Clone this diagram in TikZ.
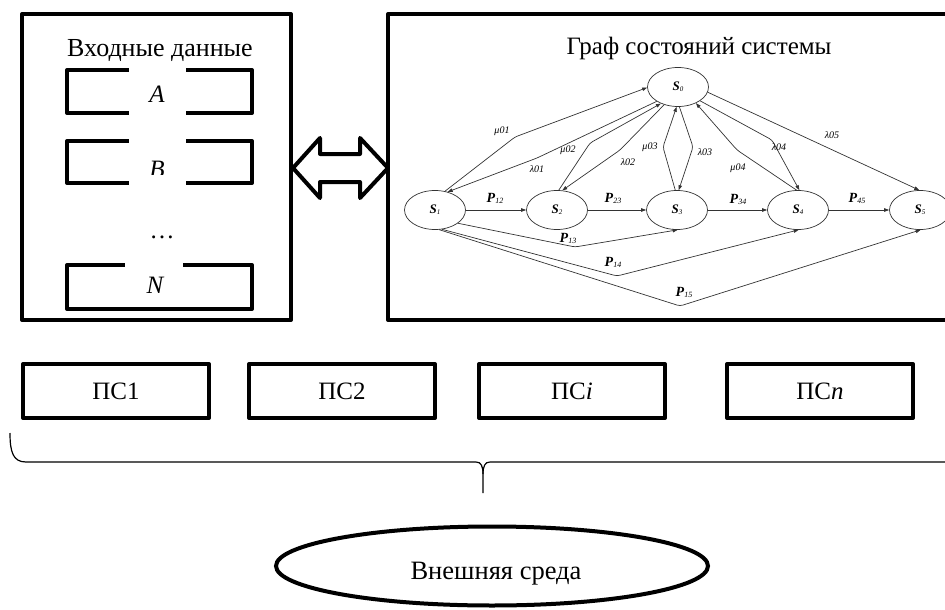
\documentclass[tikz,border=0pt]{standalone}
\usepackage{fontspec}
\setmainfont{LiberationSerif}[
  Extension=.ttf,
  UprightFont=*-Regular,
  BoldFont=*-Bold,
  ItalicFont=*-Italic,
  BoldItalicFont=*-BoldItalic]
\usetikzlibrary{arrows.meta,shapes.geometric}

\newcommand{\bigfs}{\fontsize{25}{30}\selectfont}
\newcommand{\headfs}{\fontsize{26}{31}\selectfont}
\newcommand{\envfs}{\fontsize{26.5}{31}\selectfont}
\newcommand{\midfs}{\fontsize{25}{29}\selectfont}
\newcommand{\ratefs}{\fontsize{10}{12}\selectfont}
% state label S_k and probability label P_jk
\newcommand{\stt}[1]{\textbf{\textit{S}}\raisebox{-1pt}{\fontsize{7}{8}\selectfont\itshape #1}}
\newcommand{\prb}[1]{\textbf{\textit{P}}\raisebox{-1pt}{\fontsize{8}{9}\selectfont\itshape #1}}

\begin{document}
\begin{tikzpicture}[x=1pt,y=-1pt,
  frame/.style={draw,line width=4pt,line join=round},
  state/.style={ellipse,draw=black!80,line width=0.7pt,minimum width=61pt,minimum height=39pt,inner sep=0pt,font=\fontsize{13}{15}\selectfont},
  edge/.style={draw=black!80,line width=0.7pt,-{Triangle[length=5pt,width=3.5pt]},rounded corners=3pt},
  rate/.style={font=\ratefs\itshape,inner sep=1pt},
  prob/.style={font=\fontsize{14}{16}\selectfont,inner sep=1pt},
  psbox/.style={frame,minimum width=186pt,minimum height=54pt,font=\midfs}
]
\clip (0,0) rectangle (945,610);

% ---- input data panel ----
\draw[frame] (22,14) rectangle (291,320);
\node[font=\headfs,anchor=base] (tin) at (160,57) {Входные данные};

\draw[frame] (67,70) rectangle (252,113);
\fill[white] (129,66) rectangle (186,117);
\node[font=\bigfs\itshape,anchor=base] (va) at (157,102) {A};

\draw[frame] (67,141) rectangle (252,183);
\fill[white] (129,137) rectangle (186,187);
\begin{scope}
  \clip (129,140) rectangle (186,174);
  \node[font=\bigfs\itshape,anchor=base] (vb) at (157,177) {B};
\end{scope}

\node[font=\bigfs,anchor=base] (dots) at (162,238) {…};

\draw[frame] (67,265) rectangle (252,309);
\fill[white] (125,261) rectangle (183,269);
\node[font=\bigfs\itshape,anchor=base] (vn) at (155,293) {N};

% ---- two-way arrow ----
\draw[frame,fill=white] (293,168) -- (320,138) -- (320,154) -- (360,154) -- (360,138)
  -- (388,168) -- (360,198) -- (360,182) -- (320,182) -- (320,198) -- cycle;

% ---- state graph panel ----
\draw[frame] (388,14) rectangle (970,320);
\node[font=\bigfs,anchor=base] (tgraph) at (699,55) {Граф состояний системы};

\node[state] (s0) at (678,87) {\stt{0}};
\node[state] (s1) at (435,210) {\stt{1}};
\node[state] (s2) at (557,210) {\stt{2}};
\node[state] (s3) at (677,210) {\stt{3}};
\node[state] (s4) at (798,210) {\stt{4}};
\node[state] (s5) at (920,210) {\stt{5}};

% transitions along the chain
\draw[edge] (s1) -- (s2);
\draw[edge] (s2) -- (s3);
\draw[edge] (s3) -- (s4);
\draw[edge] (s4) -- (s5);
\node[prob] (p12) at (495,198) {\prb{12}};
\node[prob] (p23) at (613,198) {\prb{23}};
\node[prob] (p34) at (738,199) {\prb{34}};
\node[prob] (p45) at (857,198) {\prb{45}};

% transitions to and from S0
\draw[edge] (s1.62) -- (515,137) -- (s0.181);
\draw[edge] (s0.214) -- (537,158) -- (s1.55);
\draw[edge] (s2.85) -- (590,143) -- (s0.224);
\draw[edge] (s0.232) -- (620,150) -- (s2.75);
\draw[edge] (s3.95) -- (663,147) -- (s0.266);
\draw[edge] (s0.274) -- (693,147) -- (s3.85);
\draw[edge] (s4.94) -- (737,150) -- (s0.318);
\draw[edge] (s0.328) -- (772,140) -- (s4.86);
\draw[edge] (s0.350) -- (s5.92);
\node[rate] (m01) at (502,131) {μ01};
\node[rate] (l01) at (537,169) {λ01};
\node[rate] (m02) at (568,150) {μ02};
\node[rate] (l02) at (628,162) {λ02};
\node[rate] (m03) at (650,147) {μ03};
\node[rate] (l03) at (705,152) {λ03};
\node[rate] (m04) at (738,168) {μ04};
\node[rate] (l04) at (779,147) {λ04};
\node[rate] (l05) at (832,135) {λ05};

% long jumps from S1
\draw[edge] (s1.330) -- (575,247) -- (s3.272);
\draw[edge] (s1.290) -- (617,276) -- (s4.272);
\draw[edge] (s1.282) -- (680,306) -- (s5.272);
\node[prob] (p13) at (568,238) {\prb{13}};
\node[prob] (p14) at (613,262) {\prb{14}};
\node[prob] (p15) at (684,292) {\prb{15}};

% ---- subsystems ----
\node[psbox] (ps1) at (116,391) {ПС1};
\node[psbox] (ps2) at (342,391) {ПС2};
\node[psbox] (psi) at (572,391) {ПС\textit{i}};
\node[psbox] (psn) at (820,391) {ПС\textit{n}};

% ---- brace ----
\coordinate (brtip) at (483,493);
\draw[line width=1.2pt] (10,433) .. controls (10,452) and (13,462) .. (26,462) -- (476,462)
  .. controls (481,462) and (483,466) .. (483,474) -- (brtip);
\draw[line width=1.2pt] (483,474) .. controls (483,466) and (485,462) .. (490,462) -- (960,462);

% ---- environment ----
\node[ellipse,draw,line width=4pt,minimum width=432pt,minimum height=79pt] (env) at (492,566) {};
\node[font=\envfs] (envtxt) at (496,574) {Внешняя среда};
\end{tikzpicture}
\end{document}
